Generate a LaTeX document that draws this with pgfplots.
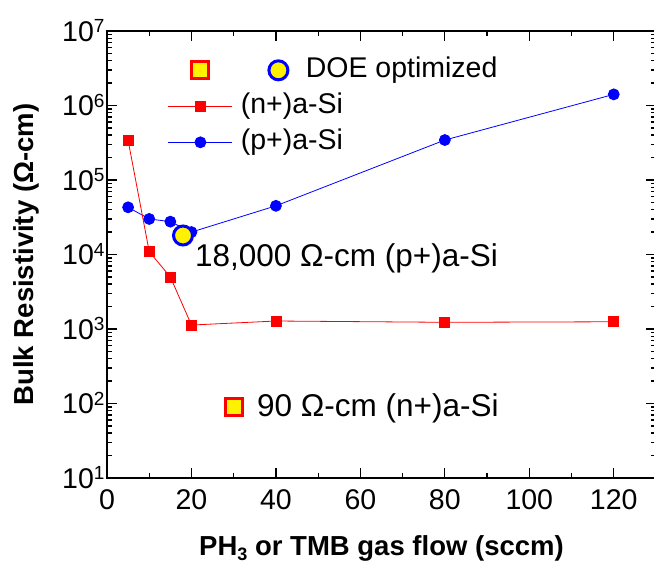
\documentclass[border=0pt]{standalone}
\usepackage{fontspec}
\setmainfont{Liberation Sans}
\usepackage{pgfplots}
\pgfplotsset{compat=1.18}
\newcommand{\tp}[1]{10\raisebox{8.5pt}{\fontsize{19}{19}\selectfont #1}}
\begin{document}
\begin{tikzpicture}
\begin{axis}[
  name=ax,
  scale only axis, width=549pt, height=447pt,
  xmin=0, xmax=130, ymin=10, ymax=1e7, ymode=log,
  xtick={0,20,40,60,80,100,120},
  minor xtick={10,30,50,70,90,110,130},
  ytick={1e1,1e2,1e3,1e4,1e5,1e6,1e7},
  yticklabels={\tp{1},\tp{2},\tp{3},\tp{4},\tp{5},\tp{6},\tp{7}},
  minor ytick={20,30,40,50,60,70,80,90,200,300,400,500,600,700,800,900,2000,3000,4000,5000,6000,7000,8000,9000,20000,30000,40000,50000,60000,70000,80000,90000,200000,300000,400000,500000,600000,700000,800000,900000,2000000,3000000,4000000,5000000,6000000,7000000,8000000,9000000},
  tick align=inside,
  major tick length=10pt, minor tick length=5pt,
  every tick/.style={black, line width=1.3pt},
  axis line style={black, line width=1.6pt},
  /pgf/number format/assume math mode=true,
  tick label style={font=\fontsize{28.5}{28.5}\selectfont},
  xticklabel style={anchor=base, yshift=-31.5pt},
  yticklabel style={anchor=base east, yshift=-10.2pt, xshift=1pt},
  xlabel={PH\raisebox{-5pt}{\fontsize{18}{18}\selectfont 3} or TMB gas flow (sccm)},
  ylabel={Bulk Resistivity (Ω-cm)},
  xlabel style={at={(axis description cs:0.5,-0.174)}, anchor=base, font=\fontsize{27.5}{27.5}\selectfont\bfseries},
  ylabel style={at={(axis description cs:-0.147,0.5)}, anchor=center, font=\fontsize{27.5}{27.5}\selectfont\bfseries},
  legend image code/.code={\draw[mark repeat=2,mark phase=2] plot coordinates {(0pt,0pt) (32pt,0pt) (64pt,0pt)};},
  legend style={at={(axis cs:14.4,4.6e6)}, anchor=north west, draw=none, fill=none,
    inner sep=0pt, row sep=8pt, column sep=8pt,
    font=\fontsize{28.5}{28.5}\selectfont,
    nodes={inner sep=0pt, text height=21pt, text depth=7pt}},
  legend cell align=left,
]
\addlegendimage{legend image code/.code={
  \path[draw=none, fill=none] (0pt,-1pt) rectangle (64pt,1pt);
  \draw[red, fill=yellow, line width=3pt] (23.5pt,-8.5pt) rectangle (40.5pt,8.5pt);
  \draw[overlay, blue, fill=yellow, line width=3pt] (110pt,0pt) circle (9.5pt);}}
\addlegendentry{\hspace*{65pt}DOE optimized}
\addlegendimage{red, line width=0.8pt, mark=square*, mark size=5pt, mark options={fill=red}}
\addlegendentry{(n+)a-Si}
\addlegendimage{blue, line width=0.8pt, mark=*, mark size=5.5pt, mark options={fill=blue}}
\addlegendentry{(p+)a-Si}

\addplot[blue, line width=0.8pt, mark=*, mark size=5.5pt, mark options={fill=blue}, forget plot]
  coordinates {(5,4.3e4) (10,3.0e4) (15,2.76e4) (20,2.0e4) (40,4.5e4) (80,3.44e5) (120,1.41e6)};
\addplot[red, line width=0.8pt, mark=square*, mark size=5pt, mark options={fill=red}, forget plot]
  coordinates {(5,3.4e5) (10,1.09e4) (15,5.0e3) (20,1.13e3) (40,1.28e3) (80,1.23e3) (120,1.25e3)};
\addplot[only marks, mark=*, mark size=9.5pt, mark options={draw=blue, fill=yellow, line width=3pt}, forget plot]
  coordinates {(18,1.8e4)};
\addplot[only marks, mark=square*, mark size=8.5pt, mark options={draw=red, fill=yellow, line width=3pt}, forget plot]
  coordinates {(30,90)};

\node[anchor=base west, inner sep=0pt, font=\fontsize{31.5}{31.5}\selectfont] at (axis cs:20.8,6.8e3) {18,000 Ω-cm (p+)a-Si};
\node[anchor=base west, inner sep=0pt, font=\fontsize{31.5}{31.5}\selectfont] at (axis cs:35.5,65.9) {90 Ω-cm (n+)a-Si};
\end{axis}
\pgfresetboundingbox
\useasboundingbox ([shift={(-107pt,-87pt)}]ax.south west) rectangle ([shift={(-2pt,31pt)}]ax.north east);
\end{tikzpicture}
\end{document}
